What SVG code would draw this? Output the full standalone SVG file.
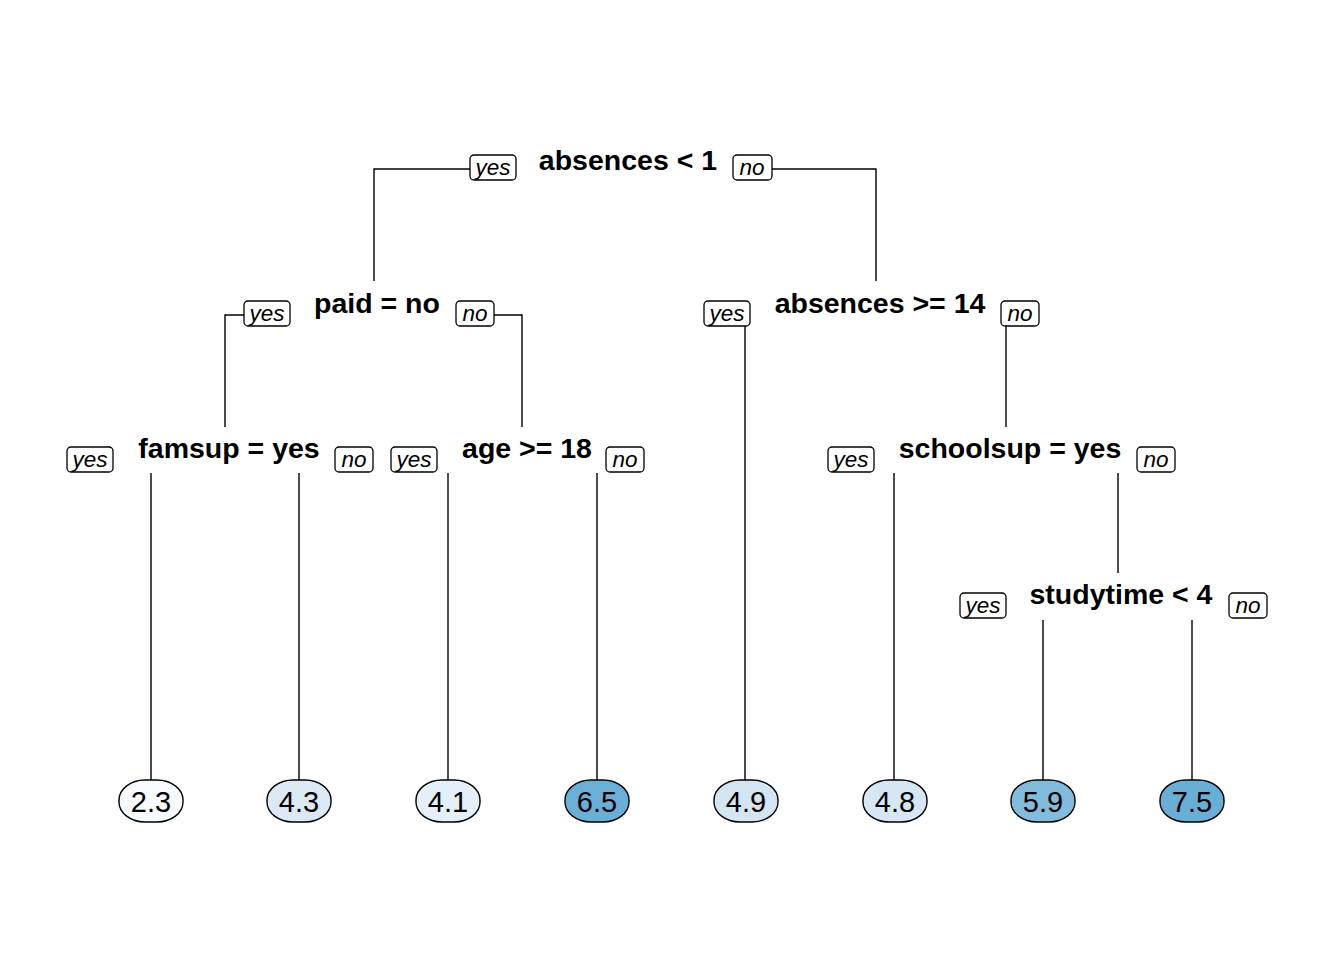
<svg xmlns="http://www.w3.org/2000/svg" width="1344" height="960" viewBox="0 0 1344 960">
<style>
.split{font-family:"Liberation Sans",Arial,sans-serif;font-weight:bold;font-size:28.5px;fill:#000;text-anchor:middle}
.yn rect{fill:#fff;stroke:#000;stroke-width:1.3}
.yn text{font-family:"Liberation Sans",Arial,sans-serif;font-style:italic;font-size:22.5px;fill:#000;text-anchor:middle}
.leaf rect{stroke:#000;stroke-width:1.4}
.leaf text{font-family:"Liberation Sans",Arial,sans-serif;font-size:29px;fill:#000;text-anchor:middle}
.conn path{fill:none;stroke:#000;stroke-width:1.4}
</style>
<rect width="1344" height="960" fill="#fff"/>
<g id="connectors" class="conn">
<path d="M470,169 H374 V281"/>
<path d="M772,169 H876 V281"/>
<path d="M244,315 H225 V427"/>
<path d="M494,315 H522 V427"/>
<path d="M745,326 V780"/>
<path d="M1006,326 V427"/>
<path d="M151,473 V780"/>
<path d="M299,473 V780"/>
<path d="M448,473 V780"/>
<path d="M597,473 V780"/>
<path d="M894,473 V780"/>
<path d="M1118,473 V573"/>
<path d="M1043,620 V780"/>
<path d="M1192,620 V780"/>
</g>
<g id="n_root">
<text class="split" x="628" y="170">absences &lt; 1</text>
<g class="yn"><rect x="470" y="155" width="46" height="25" rx="4"/><text x="493" y="175">yes</text></g>
<g class="yn"><rect x="733" y="155" width="39" height="25" rx="4"/><text x="752" y="175">no</text></g>
</g>
<g id="n_paid">
<text class="split" x="377" y="313">paid = no</text>
<g class="yn"><rect x="244" y="301" width="46" height="25" rx="4"/><text x="267" y="321">yes</text></g>
<g class="yn"><rect x="456" y="301" width="38" height="25" rx="4"/><text x="475" y="321">no</text></g>
</g>
<g id="n_abs14">
<text class="split" x="880" y="313">absences &gt;= 14</text>
<g class="yn"><rect x="704" y="301" width="46" height="25" rx="4"/><text x="727" y="321">yes</text></g>
<g class="yn"><rect x="1001" y="301" width="38" height="25" rx="4"/><text x="1020" y="321">no</text></g>
</g>
<g id="n_famsup">
<text class="split" x="229" y="458">famsup = yes</text>
<g class="yn"><rect x="67" y="447" width="46" height="25" rx="4"/><text x="90" y="467">yes</text></g>
<g class="yn"><rect x="335" y="447" width="38" height="25" rx="4"/><text x="354" y="467">no</text></g>
</g>
<g id="n_age">
<text class="split" x="527" y="458">age &gt;= 18</text>
<g class="yn"><rect x="391" y="447" width="46" height="25" rx="4"/><text x="414" y="467">yes</text></g>
<g class="yn"><rect x="606" y="447" width="38" height="25" rx="4"/><text x="625" y="467">no</text></g>
</g>
<g id="n_schoolsup">
<text class="split" x="1010" y="458">schoolsup = yes</text>
<g class="yn"><rect x="828" y="447" width="46" height="25" rx="4"/><text x="851" y="467">yes</text></g>
<g class="yn"><rect x="1137" y="447" width="38" height="25" rx="4"/><text x="1156" y="467">no</text></g>
</g>
<g id="n_studytime">
<text class="split" x="1121" y="604">studytime &lt; 4</text>
<g class="yn"><rect x="960" y="593" width="46" height="25" rx="4"/><text x="983" y="613">yes</text></g>
<g class="yn"><rect x="1229" y="593" width="38" height="25" rx="4"/><text x="1248" y="613">no</text></g>
</g>
<g id="leaf1" class="leaf"><rect x="119" y="780" width="64" height="42" rx="26" ry="20" fill="#F7FBFF"/><text x="151" y="812">2.3</text></g>
<g id="leaf2" class="leaf"><rect x="267" y="780" width="64" height="42" rx="26" ry="20" fill="#DCE9F5"/><text x="299" y="812">4.3</text></g>
<g id="leaf3" class="leaf"><rect x="416" y="780" width="64" height="42" rx="26" ry="20" fill="#E5EFF9"/><text x="448" y="812">4.1</text></g>
<g id="leaf4" class="leaf"><rect x="565" y="780" width="64" height="42" rx="26" ry="20" fill="#6BAED6"/><text x="597" y="812">6.5</text></g>
<g id="leaf5" class="leaf"><rect x="714" y="780" width="64" height="42" rx="26" ry="20" fill="#D4E4F3"/><text x="746" y="812">4.9</text></g>
<g id="leaf6" class="leaf"><rect x="863" y="780" width="64" height="42" rx="26" ry="20" fill="#D6E6F4"/><text x="895" y="812">4.8</text></g>
<g id="leaf7" class="leaf"><rect x="1011" y="780" width="64" height="42" rx="26" ry="20" fill="#82BBDB"/><text x="1043" y="812">5.9</text></g>
<g id="leaf8" class="leaf"><rect x="1160" y="780" width="64" height="42" rx="26" ry="20" fill="#6AADD5"/><text x="1192" y="812">7.5</text></g>
</svg>
